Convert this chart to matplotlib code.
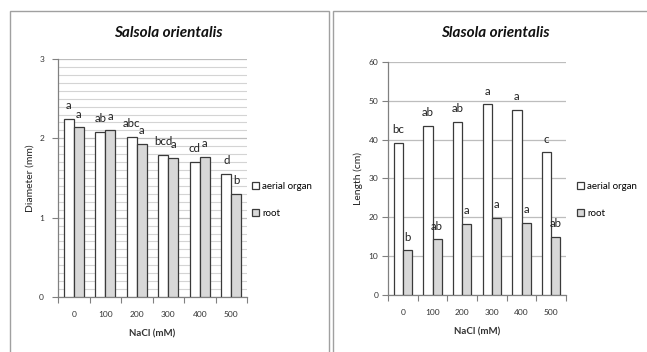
import matplotlib.pyplot as plt
from matplotlib.patches import Rectangle, Patch
from matplotlib.ticker import MultipleLocator, FixedLocator

plt.rcParams['font.family'] = ['Lato', 'DejaVu Sans']

# NaCl treatments
nacl = ['0', '100', '200', '300', '400', '500']

# stem / root diameter (mm)
diam_aerial = [2.25, 2.08, 2.02, 1.79, 1.70, 1.55]
diam_root = [2.14, 2.11, 1.93, 1.75, 1.77, 1.30]
diam_aerial_sig = ['a', 'ab', 'abc', 'bcd', 'cd', 'd']
diam_root_sig = ['a', 'a', 'a', 'a', 'a', 'b']

# shoot / root length (cm)
len_aerial = [39.1, 43.6, 44.6, 49.1, 47.6, 36.7]
len_root = [11.5, 14.3, 18.3, 19.8, 18.6, 14.9]
len_aerial_sig = ['bc', 'ab', 'ab', 'a', 'a', 'c']
len_root_sig = ['b', 'ab', 'a', 'a', 'a', 'ab']

series_names = ['aerial organ', 'root']

W, H = 647, 352
EDGE = '#3a3a3a'
ROOT_FILL = '#d8d8d8'
GRID = '#bdbdbd'

fig = plt.figure(figsize=(W / 100, H / 100), dpi=100)


def box(x0, y0, x1, y1):
    return [x0 / W, 1 - y1 / H, (x1 - x0) / W, (y1 - y0) / H]


# outer chart frames
fig.add_artist(Rectangle((10 / W, -0.1), (329 - 10) / W, 1.1 - 11 / H,
                         transform=fig.transFigure, fill=False, ec='#a0a0a0', lw=1))
fig.add_artist(Rectangle((333 / W, -0.1), 0.6, 1.1 - 11 / H,
                         transform=fig.transFigure, fill=False, ec='#a0a0a0', lw=1))


def panel(rect, aerial, root, sig_a, sig_r, ymax, major, minor, ylabel, ypad, ylpad):
    ax = fig.add_axes(rect)
    n = len(aerial)
    centers = [i + 0.5 for i in range(n)]
    w = 0.31
    xa = [c - w / 2 for c in centers]
    xr = [c + w / 2 for c in centers]
    ax.bar(xa, aerial, w, color='white', edgecolor=EDGE, lw=0.9, zorder=3)
    ax.bar(xr, root, w, color=ROOT_FILL, edgecolor=EDGE, lw=0.9, zorder=3)
    for x, v, s in zip(xa, aerial, sig_a):
        ax.annotate(s, (x, v), xytext=(0, 9.5), textcoords='offset points',
                    ha='center', va='center', fontsize=8.3, color='#222222', zorder=4)
    for x, v, s in zip(xr, root, sig_r):
        ax.annotate(s, (x, v), xytext=(0, 9.5), textcoords='offset points',
                    ha='center', va='center', fontsize=8.3, color='#222222', zorder=4)

    ax.set_xlim(0, n)
    ax.set_ylim(0, ymax)
    ax.yaxis.set_major_locator(MultipleLocator(major))
    if minor:
        ax.yaxis.set_minor_locator(MultipleLocator(minor))
        ax.grid(True, axis='y', which='minor', color='#d4d4d4', lw=0.8, zorder=0)
        ax.tick_params(axis='y', which='minor', length=0)
    ax.grid(True, axis='y', which='major', color=GRID, lw=0.9, zorder=0)

    ax.xaxis.set_major_locator(FixedLocator(range(n + 1)))
    ax.xaxis.set_minor_locator(FixedLocator(centers))
    ax.set_xticklabels([], minor=False)
    ax.set_xticklabels(nacl, minor=True)
    ax.tick_params(axis='x', which='major', length=4, color='#808080', width=0.8)
    ax.tick_params(axis='x', which='minor', length=0, pad=10, labelsize=6, labelcolor='#333333')
    ax.tick_params(axis='y', which='major', length=4, color='#808080', width=0.8,
                   labelsize=6, labelcolor='#333333', pad=ypad)

    for side in ('top', 'right'):
        ax.spines[side].set_visible(False)
    for side in ('left', 'bottom'):
        ax.spines[side].set_color('#808080')
        ax.spines[side].set_linewidth(0.9)

    ax.set_xlabel('NaCl (mM)', fontsize=7, fontweight='bold', color='#333333', labelpad=8)
    ax.set_ylabel(ylabel, fontsize=7.5, color='#222222', labelpad=ylpad)
    return ax


panel(box(58, 59, 247, 297), diam_aerial, diam_root, diam_aerial_sig, diam_root_sig,
      3, 1, 0.1, 'Diameter (mm)', 6, 3)
panel(box(388, 62, 566, 295), len_aerial, len_root, len_aerial_sig, len_root_sig,
      60, 10, None, 'Length (cm)', 3, 4)

fig.text(168 / W, 1 - 33 / H, 'Salsola orientalis', ha='center', va='center',
         fontsize=11, fontweight='bold', style='italic', color='#111111')
fig.text(495 / W, 1 - 33 / H, 'Slasola orientalis', ha='center', va='center',
         fontsize=11, fontweight='bold', style='italic', color='#111111')

handles = [Patch(facecolor='white', edgecolor=EDGE, lw=0.9),
           Patch(facecolor=ROOT_FILL, edgecolor=EDGE, lw=0.9)]
for x0 in (252, 577):
    fig.legend(handles, series_names, loc='upper left',
               bbox_to_anchor=(x0 / W, 1 - 182 / H), frameon=False,
               handlelength=0.75, handleheight=0.75, handletextpad=0.3,
               labelspacing=1.85, borderpad=0, borderaxespad=0, fontsize=7)

fig.savefig('out.png', dpi=100)
